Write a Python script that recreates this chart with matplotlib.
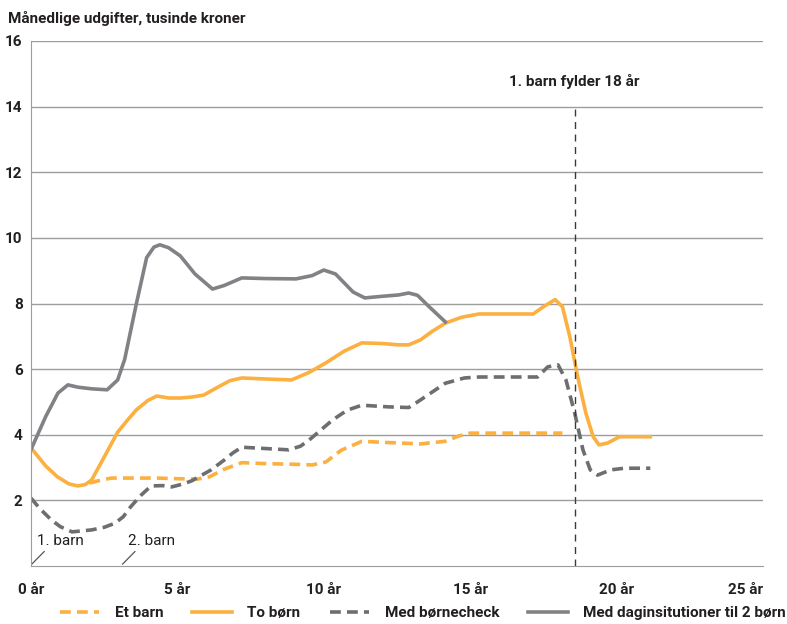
import numpy as np
import matplotlib
matplotlib.use("Agg")
import matplotlib.pyplot as plt

plt.rcParams['font.family'] = ['Roboto', 'DejaVu Sans']

# data (age of the first child in years, thousand kroner per month)
dag_x = [0, 0.5, 0.92, 1.26, 1.6, 2.07, 2.6, 2.96, 3.2, 3.6, 3.95, 4.2, 4.4, 4.7, 5.1, 5.6,
         6.2, 6.6, 7.2, 8.0, 9.05, 9.6, 10.0, 10.4, 11.0, 11.4, 12.0, 12.55, 12.9, 13.2, 13.6, 14.15]
dag_y = [3.55, 4.55, 5.27, 5.52, 5.45, 5.4, 5.37, 5.67, 6.3, 8.0, 9.4, 9.72, 9.79, 9.7, 9.45, 8.9,
         8.44, 8.55, 8.78, 8.76, 8.75, 8.85, 9.02, 8.9, 8.35, 8.17, 8.22, 8.26, 8.32, 8.25, 7.9, 7.44]

to_x = [0, 0.5, 0.9, 1.3, 1.6, 1.85, 2.07, 2.5, 2.96, 3.3, 3.6, 4.0, 4.3, 4.7, 5.1, 5.5, 5.9,
        6.4, 6.8, 7.2, 8.0, 8.9, 9.5, 10.07, 10.7, 11.3, 12.0, 12.55, 12.9, 13.3, 13.7, 14.15,
        14.7, 15.3, 16.2, 17.15, 17.5, 17.9, 18.15, 18.4, 18.67, 18.95, 19.2, 19.4, 19.7, 20.1, 21.15]
to_y = [3.6, 3.05, 2.72, 2.5, 2.44, 2.48, 2.62, 3.32, 4.08, 4.45, 4.76, 5.05, 5.18, 5.12, 5.12, 5.15, 5.21,
        5.46, 5.65, 5.73, 5.7, 5.67, 5.9, 6.19, 6.55, 6.8, 6.78, 6.74, 6.74, 6.89, 7.15, 7.4,
        7.58, 7.68, 7.68, 7.68, 7.9, 8.12, 7.9, 7.0, 5.77, 4.66, 3.94, 3.69, 3.75, 3.94, 3.94]

et_x = [2.0, 2.4, 2.75, 3.5, 4.3, 5.0, 5.7, 6.1, 6.6, 7.2, 8.0, 9.0, 9.6, 10.07, 10.6, 11.3,
        12.0, 12.55, 13.3, 13.6, 14.15, 14.6, 15.0, 16.5, 18.15]
et_y = [2.53, 2.62, 2.68, 2.68, 2.68, 2.66, 2.65, 2.72, 2.95, 3.15, 3.12, 3.1, 3.08, 3.17, 3.53, 3.8,
        3.77, 3.75, 3.72, 3.75, 3.8, 3.96, 4.05, 4.05, 4.05]

check_x = [0, 0.3, 0.7, 1.0, 1.4, 2.07, 2.5, 2.86, 3.15, 3.4, 3.75, 4.1, 4.5, 4.8, 5.2, 5.5, 6.15,
           6.6, 6.9, 7.2, 8.0, 8.8, 9.2, 9.5, 10.3, 10.8, 11.3, 12.2, 12.9, 13.2, 14.15, 14.8,
           15.3, 17.3, 17.65, 18.0, 18.27, 18.57, 18.85, 19.1, 19.35, 19.8, 20.27, 21.15]
check_y = [2.07, 1.75, 1.4, 1.2, 1.04, 1.1, 1.18, 1.3, 1.5, 1.8, 2.15, 2.44, 2.45, 2.41, 2.5, 2.6, 2.93,
           3.23, 3.45, 3.62, 3.58, 3.54, 3.65, 3.84, 4.45, 4.75, 4.9, 4.85, 4.83, 5.0, 5.57, 5.73,
           5.76, 5.76, 6.07, 6.13, 5.67, 4.66, 3.54, 2.93, 2.77, 2.93, 2.98, 2.98]

x_ticks = [0, 5, 10, 15, 20, 25]
x_labels = ["0 år", "5 år", "10 år", "15 år", "20 år", "25 år"]
y_ticks = [2, 4, 6, 8, 10, 12, 14, 16]
birth_x = [0, 3.1]
birth_labels = ["1. barn", "2. barn"]
age18 = 18.57

orange = "#FBB040"
grey = "#808285"
dgrey = "#6D6E71"
txt = "#231F20"

fig = plt.figure(figsize=(7.87, 6.24), dpi=100)
ax = fig.add_axes([31 / 787, 1 - 566 / 624, 732 / 787, 525 / 624])

ax.plot(et_x, et_y, color=orange, lw=2.6, dashes=(3, 1.7), label="Et barn")
ax.plot(to_x, to_y, color=orange, lw=2.6, label="To børn", solid_joinstyle="round")
ax.plot(check_x, check_y, color=dgrey, lw=2.6, dashes=(3, 1.7), label="Med børnecheck")
ax.plot(dag_x, dag_y, color=grey, lw=2.6, label="Med daginsitutioner til 2 børn", solid_joinstyle="round")

ax.plot([age18, age18], [0, 14], color="#3a3a3a", lw=1, dashes=(5, 4))
ax.text(age18, 14.55, "1. barn fylder 18 år", ha="center", va="bottom", fontsize=11,
        fontweight="bold", color=txt)

for bx, bl in zip(birth_x, birth_labels):
    ax.plot([bx + 0.03, bx + 0.45], [0.06, 0.44], color="#555555", lw=0.9)
    ax.text(bx + 0.22, 0.75, bl, ha="left", va="center", fontsize=11, color=txt)

ax.set_xlim(0, 25)
ax.set_ylim(0, 16)
ax.set_yticks(y_ticks)
ax.set_yticklabels([str(v) for v in y_ticks], fontsize=11, fontweight="bold", color=txt)
ax.set_xticks(x_ticks)
ax.set_xticklabels(x_labels, fontsize=11, fontweight="bold", color=txt)
ax.get_xticklabels()[-1].set_horizontalalignment("right")
ax.tick_params(length=0)
ax.tick_params(axis="x", pad=12)
ax.tick_params(axis="y", pad=6)
ax.grid(axis="y", color="#9d9d9d", lw=1)
ax.set_axisbelow(True)
for s in ["top", "right"]:
    ax.spines[s].set_visible(False)
ax.spines["left"].set_color("#9d9d9d")
ax.spines["bottom"].set_color("#9d9d9d")

fig.text(8 / 787, 1 - 18 / 624, "Månedlige udgifter, tusinde kroner", ha="left", va="center",
         fontsize=11, fontweight="bold", color=txt)

fig.legend(loc="center left", bbox_to_anchor=(46 / 787, 1 - 613 / 624), ncol=4, frameon=False,
           prop={"weight": "bold", "size": 11}, handlelength=2.6, columnspacing=1.9,
           handletextpad=1.0, labelcolor=txt)

fig.savefig("out.png", dpi=100)
